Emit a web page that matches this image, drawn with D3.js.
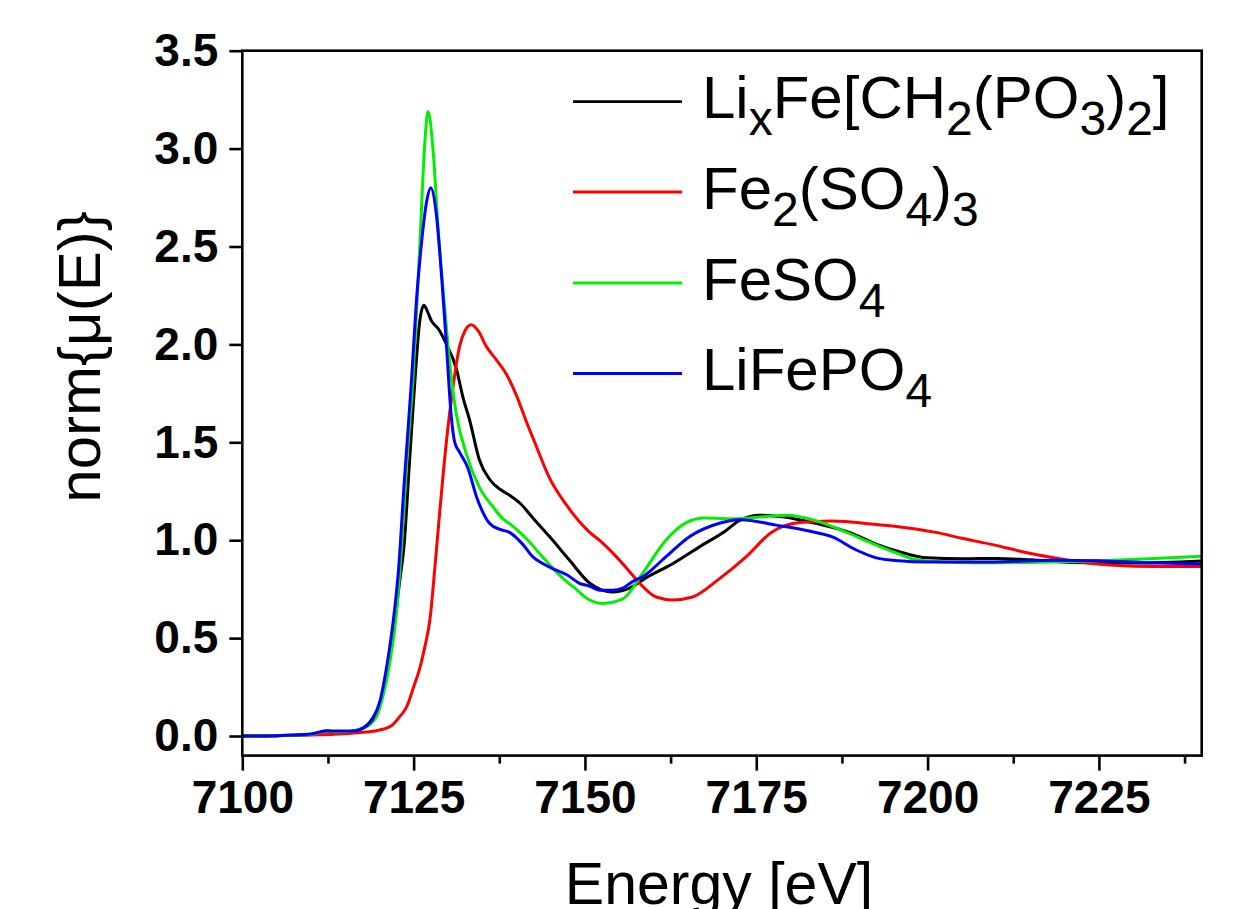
<!DOCTYPE html>
<html>
<head>
<meta charset="utf-8">
<script src="https://cdn.jsdelivr.net/npm/d3@7"></script>
<style>
  html, body { margin: 0; padding: 0; background: #fff; }
  svg { display: block; }
  text { font-family: "Liberation Sans", Arial, sans-serif; fill: #000; }
</style>
</head>
<body>
<svg id="chart" width="1237" height="909"></svg>
<script>
// Fe K-edge XANES spectra (normalised absorption vs. energy)
const seriesNames = ["LixFe[CH2(PO3)2]", "Fe2(SO4)3", "FeSO4", "LiFePO4"];
const seriesColors = ["#000000", "#ff0000", "#00f000", "#0000ff"];

const xTicks = [7100, 7125, 7150, 7175, 7200, 7225];
const xMinorTicks = [7112.5, 7137.5, 7162.5, 7187.5, 7212.5, 7237.5];
const yTicks = [0.0, 0.5, 1.0, 1.5, 2.0, 2.5, 3.0, 3.5];

// [energy eV, norm mu(E)]
const lixFeData = [
  [7100, 0], [7105, 0.002], [7110, 0.008], [7112.3, 0.025], [7114, 0.022], [7116, 0.025],
  [7117.6, 0.04], [7119, 0.09], [7120, 0.16], [7121, 0.30], [7122, 0.52], [7123, 0.80],
  [7123.6, 0.97], [7124.4, 1.40], [7125.2, 1.82], [7125.9, 2.12], [7126.5, 2.20], [7127, 2.17],
  [7127.6, 2.12], [7128.6, 2.08], [7129.8, 2.00], [7131.2, 1.88], [7132.2, 1.73], [7133.2, 1.61],
  [7134.6, 1.41], [7136.1, 1.31], [7137.6, 1.26], [7139.0, 1.23], [7140.5, 1.19], [7142.5, 1.11],
  [7144.8, 1.02], [7147.7, 0.90], [7150.7, 0.78], [7152.5, 0.745], [7154.0, 0.735], [7156.5, 0.755],
  [7159.0, 0.81], [7162.8, 0.88], [7166.7, 0.966], [7170.6, 1.05], [7172.5, 1.10], [7175.5, 1.128],
  [7178.8, 1.12], [7183.7, 1.086], [7188.6, 1.04], [7192.5, 0.98], [7196, 0.94], [7200, 0.91],
  [7205, 0.905], [7210, 0.907], [7215, 0.90], [7221, 0.886], [7230, 0.883], [7240, 0.894]
];

const fe2so43Data = [
  [7100, 0], [7105, 0.002], [7110, 0.005], [7115, 0.012], [7118, 0.02], [7120, 0.03],
  [7122, 0.06], [7123, 0.10], [7124, 0.15], [7125, 0.25], [7126, 0.36], [7126.6, 0.45],
  [7127.4, 0.60], [7128.1, 0.86], [7128.8, 1.14], [7129.8, 1.51], [7130.7, 1.77], [7131.7, 1.99],
  [7132.5, 2.07], [7133.4, 2.10], [7134.4, 2.07], [7135.6, 1.99], [7137.1, 1.92], [7138.5, 1.85],
  [7140.0, 1.74], [7141.4, 1.61], [7142.9, 1.48], [7144.8, 1.32], [7147.3, 1.18], [7150.7, 1.04],
  [7152.1, 1.0], [7154.6, 0.915], [7157, 0.82], [7158, 0.78], [7160.4, 0.71], [7162.8, 0.695],
  [7165.7, 0.71], [7169.5, 0.80], [7173.5, 0.915], [7177.2, 1.04], [7181.3, 1.09], [7186, 1.098],
  [7192.5, 1.08], [7196, 1.068], [7201.2, 1.04], [7205, 1.01], [7209.8, 0.975], [7214, 0.94],
  [7218.4, 0.91], [7223, 0.885], [7227.1, 0.872], [7233, 0.866], [7240, 0.866]
];

const feso4Data = [
  [7100, 0], [7105, 0.002], [7110, 0.008], [7112.3, 0.025], [7114, 0.022], [7116, 0.025],
  [7118, 0.045], [7119.6, 0.1], [7120.5, 0.2], [7121.5, 0.37], [7122.5, 0.63], [7123.2, 0.95],
  [7124, 1.40], [7124.9, 1.82], [7125.9, 2.50], [7126.6, 3.01], [7127.1, 3.19], [7127.8, 3.01],
  [7128.6, 2.58], [7129.5, 2.20], [7130.4, 1.86], [7131.2, 1.65], [7132.7, 1.44], [7134.6, 1.27],
  [7136.6, 1.17], [7138.0, 1.11], [7139.0, 1.085], [7140.5, 1.04], [7141.4, 1.01], [7143.8, 0.915],
  [7145.5, 0.85], [7147.3, 0.79], [7148.7, 0.75], [7150.2, 0.705], [7152.6, 0.677], [7155.5, 0.70],
  [7158.4, 0.83], [7161.8, 1.0], [7164.8, 1.09], [7167.4, 1.113], [7172.4, 1.11], [7176, 1.12],
  [7179.5, 1.128], [7183.7, 1.10], [7187.5, 1.05], [7191.5, 0.99], [7195.8, 0.93], [7198.3, 0.90],
  [7203, 0.888], [7209.8, 0.885], [7220, 0.89], [7227.1, 0.898], [7233, 0.906], [7240, 0.918]
];

const lifepo4Data = [
  [7100, 0], [7105, 0.002], [7110, 0.01], [7112.3, 0.027], [7113.8, 0.025], [7116.2, 0.025],
  [7117.6, 0.04], [7119.1, 0.09], [7120.1, 0.18], [7121.0, 0.34], [7122.0, 0.58], [7122.8, 0.85],
  [7123.6, 1.28], [7124.7, 1.82], [7125.4, 2.22], [7126.1, 2.50], [7126.9, 2.73], [7127.5, 2.80],
  [7128.3, 2.67], [7129.1, 2.34], [7129.8, 1.99], [7130.5, 1.63], [7131.0, 1.50], [7131.7, 1.45],
  [7132.9, 1.37], [7134.2, 1.22], [7136.1, 1.085], [7137.6, 1.055], [7139.0, 1.04], [7140.9, 0.98],
  [7142.4, 0.915], [7143.9, 0.88], [7145.8, 0.847], [7147.3, 0.825], [7149.2, 0.78], [7150.7, 0.765],
  [7152.1, 0.745], [7154.1, 0.745], [7155.5, 0.755], [7157.0, 0.79], [7158.4, 0.813], [7161.8, 0.915],
  [7165.2, 1.017], [7168.6, 1.075], [7172.7, 1.105], [7177.9, 1.077], [7182.7, 1.047], [7186.1, 1.017],
  [7189.6, 0.95], [7192.5, 0.91], [7195.8, 0.895], [7200, 0.889], [7209.8, 0.889], [7218.4, 0.898],
  [7225, 0.895], [7232, 0.885], [7240, 0.878]
];

const seriesData = [lixFeData, fe2so43Data, feso4Data, lifepo4Data];

// legend label pieces: [text, isSubscript]
const legendParts = [
  [["Li", false], ["x", true], ["Fe[CH", false], ["2", true], ["(PO", false], ["3", true], [")", false], ["2", true], ["]", false]],
  [["Fe", false], ["2", true], ["(SO", false], ["4", true], [")", false], ["3", true]],
  [["FeSO", false], ["4", true]],
  [["LiFePO", false], ["4", true]]
];

const svg = d3.select("#chart");
const W = 1237, H = 909;
const plot = { left: 242.3, right: 1201.7, top: 50.7, bottom: 755.6 };

svg.append("rect").attr("width", W).attr("height", H).attr("fill", "#fff");

const x = d3.scaleLinear().domain([7100, 7240]).range([plot.left, plot.right]);
const y = d3.scaleLinear().domain([-0.1, 3.5]).range([plot.bottom, plot.top]);

// clip so curves stay inside the frame
svg.append("defs").append("clipPath").attr("id", "plotClip")
  .append("rect")
  .attr("x", plot.left).attr("y", plot.top)
  .attr("width", plot.right - plot.left).attr("height", plot.bottom - plot.top);

// curves
const line = d3.line()
  .x(d => x(d[0]))
  .y(d => y(d[1]))
  .curve(d3.curveMonotoneX);

const curves = svg.append("g").attr("clip-path", "url(#plotClip)");
seriesData.forEach((data, i) => {
  curves.append("path")
    .datum(data)
    .attr("fill", "none")
    .attr("stroke", seriesColors[i])
    .attr("stroke-width", 3)
    .attr("stroke-linejoin", "round")
    .attr("d", line);
});

// x axis (bottom)
const xAxis = d3.axisBottom(x)
  .tickValues(xTicks)
  .tickFormat(d3.format("d"))
  .tickSize(15)
  .tickSizeOuter(0)
  .tickPadding(10);
const gx = svg.append("g").attr("transform", `translate(0,${plot.bottom})`).call(xAxis);
gx.select(".domain").remove();
gx.selectAll(".tick line").attr("stroke", "#000").attr("stroke-width", 2.6);
gx.selectAll(".tick text")
  .attr("font-family", "'Liberation Sans', Arial, sans-serif")
  .attr("font-size", 46).attr("font-weight", "bold").attr("fill", "#000");

const xMinor = d3.axisBottom(x).tickValues(xMinorTicks).tickSize(8).tickFormat("");
const gxm = svg.append("g").attr("transform", `translate(0,${plot.bottom})`).call(xMinor);
gxm.select(".domain").remove();
gxm.selectAll(".tick line").attr("stroke", "#000").attr("stroke-width", 2.6);

// y axis (left)
const yAxis = d3.axisLeft(y)
  .tickValues(yTicks)
  .tickFormat(d3.format(".1f"))
  .tickSize(13)
  .tickSizeOuter(0)
  .tickPadding(11);
const gy = svg.append("g").attr("transform", `translate(${plot.left},0)`).call(yAxis);
gy.select(".domain").remove();
gy.selectAll(".tick line").attr("stroke", "#000").attr("stroke-width", 2.6);
gy.selectAll(".tick text")
  .attr("font-family", "'Liberation Sans', Arial, sans-serif")
  .attr("font-size", 46).attr("font-weight", "bold").attr("fill", "#000");

// frame
svg.append("rect")
  .attr("x", plot.left).attr("y", plot.top)
  .attr("width", plot.right - plot.left).attr("height", plot.bottom - plot.top)
  .attr("fill", "none").attr("stroke", "#000").attr("stroke-width", 2.6);

// axis titles
svg.append("text")
  .attr("x", 719).attr("y", 904)
  .attr("text-anchor", "middle")
  .attr("font-size", 59)
  .text("Energy [eV]");

svg.append("text")
  .attr("transform", "translate(100,357) rotate(-90)")
  .attr("text-anchor", "middle")
  .attr("font-size", 60)
  .text("norm{\u03bc(E)}");

// legend
const legendY = [101.7, 192, 283, 373.5];
const legend = svg.append("g");
legendParts.forEach((parts, i) => {
  legend.append("line")
    .attr("x1", 573).attr("x2", 682)
    .attr("y1", legendY[i]).attr("y2", legendY[i])
    .attr("stroke", seriesColors[i]).attr("stroke-width", 2.8);
  const t = legend.append("text")
    .attr("x", 702).attr("y", legendY[i] + 16.6)
    .attr("font-size", 60);
  let shifted = false;
  parts.forEach(([s, sub]) => {
    const ts = t.append("tspan").text(s);
    if (sub && !shifted) { ts.attr("dy", 17).attr("font-size", 48); shifted = true; }
    else if (sub && shifted) { ts.attr("font-size", 48); }
    else if (!sub && shifted) { ts.attr("dy", -17); shifted = false; }
  });
});
</script>
</body>
</html>
